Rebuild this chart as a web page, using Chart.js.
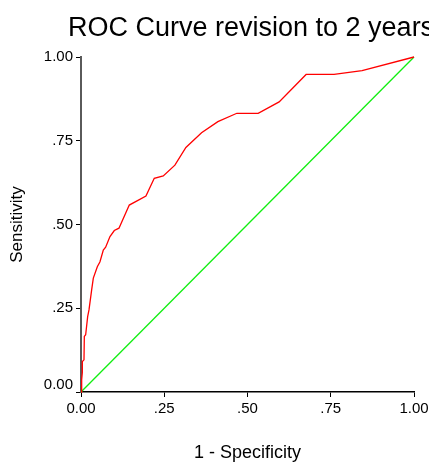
<!DOCTYPE html>
<html>
<head>
<meta charset="utf-8">
<script src="https://cdn.jsdelivr.net/npm/chart.js@4"></script>
<style>
  html, body { margin: 0; padding: 0; background: #fff; }
  #wrap { position: relative; width: 429px; height: 465px; }
</style>
</head>
<body>
<div id="wrap"><canvas id="roc"></canvas></div>
<script>
// 1 - specificity / sensitivity pairs
const falsePositiveRate = [0, 0.002, 0.004, 0.004, 0.009, 0.010, 0.014, 0.020, 0.024, 0.032, 0.037, 0.049, 0.057, 0.067, 0.074, 0.087, 0.100, 0.114, 0.145, 0.195, 0.220, 0.247, 0.282, 0.315, 0.362, 0.411, 0.468, 0.532, 0.595, 0.676, 0.760, 0.844, 1.0];
const truePositiveRate = [0, 0.037, 0.058, 0.091, 0.096, 0.166, 0.171, 0.225, 0.245, 0.305, 0.340, 0.374, 0.389, 0.424, 0.432, 0.464, 0.482, 0.489, 0.558, 0.585, 0.638, 0.645, 0.677, 0.730, 0.774, 0.807, 0.832, 0.832, 0.866, 0.948, 0.948, 0.959, 1.0];
const referenceX = [0, 1];
const referenceY = [0, 1];
const xTickLabels = ["0.00", ".25", ".50", ".75", "1.00"];
const yTickLabels = ["0.00", ".25", ".50", ".75", "1.00"];

const chartTitle = "ROC Curve revision to 2 years";
const FONT = "'Liberation Sans', Arial, sans-serif";

const toPoints = (xs, ys) => xs.map((x, i) => ({ x, y: ys[i] }));

// title sits over the plot and runs past the right edge, so draw it by hand
const titlePlugin = {
  id: "spssTitle",
  afterDraw(chart) {
    const ctx = chart.ctx;
    ctx.save();
    ctx.font = `27px ${FONT}`;
    ctx.fillStyle = "#000";
    ctx.textAlign = "left";
    ctx.textBaseline = "alphabetic";
    ctx.fillText(chartTitle, 68, 36);
    ctx.restore();
  },
};

Chart.defaults.color = "#000";
Chart.defaults.font.family = FONT;

new Chart(document.getElementById("roc"), {
  type: "scatter",
  data: {
    datasets: [
      {
        label: "ROC",
        data: toPoints(falsePositiveRate, truePositiveRate),
        showLine: true,
        borderColor: "#ff0000",
        borderWidth: 1.3,
        pointRadius: 0,
        tension: 0,
        clip: 4,
      },
      {
        label: "Reference",
        data: toPoints(referenceX, referenceY),
        showLine: true,
        borderColor: "#11ee11",
        borderWidth: 1.3,
        pointRadius: 0,
        clip: 4,
      },
    ],
  },
  options: {
    responsive: true,
    maintainAspectRatio: false,
    animation: false,
    layout: { padding: { top: 57, right: 15, left: 0, bottom: 0 } },
    plugins: {
      legend: { display: false },
      tooltip: { enabled: false },
    },
    scales: {
      x: {
        type: "linear",
        min: 0,
        max: 1,
        afterFit(scale) {
          scale.height = 73;
          // plot edge is fixed by the layout padding, not by the last label
          scale.paddingLeft = 0;
          scale.paddingRight = 0;
        },
        afterBuildTicks(scale) {
          scale.ticks = xTickLabels.map((_, i) => ({ value: i * 0.25 }));
        },
        ticks: {
          font: { size: 15 },
          padding: 3,
          maxRotation: 0,
          callback: (value, index) => xTickLabels[index],
        },
        grid: {
          drawOnChartArea: false,
          drawTicks: true,
          tickLength: 5,
          tickColor: "#000",
        },
        border: { display: true, color: "#000", width: 1.5 },
        title: {
          display: true,
          text: "1 - Specificity",
          font: { size: 18 },
          padding: { top: 0, bottom: 1 },
        },
      },
      y: {
        type: "linear",
        min: 0,
        max: 1,
        afterFit(scale) {
          scale.width = 81;
          scale.paddingTop = 0;
          scale.paddingBottom = 0;
        },
        afterBuildTicks(scale) {
          scale.ticks = yTickLabels.map((_, i) => ({ value: i * 0.25 }));
        },
        ticks: {
          font: { size: 15, lineHeight: 1 },
          padding: 3,
          // lift the bottom label clear of the x axis labels
          callback: (value, index) => (index === 0 ? [yTickLabels[index], ""] : yTickLabels[index]),
        },
        grid: {
          drawOnChartArea: false,
          drawTicks: true,
          tickLength: 5,
          tickColor: "#000",
        },
        border: { display: true, color: "#5a5a5a", width: 2 },
        title: {
          display: true,
          text: "Sensitivity",
          font: { size: 17 },
          padding: { top: 7, bottom: 0 },
        },
      },
    },
  },
  plugins: [titlePlugin],
});
</script>
</body>
</html>
